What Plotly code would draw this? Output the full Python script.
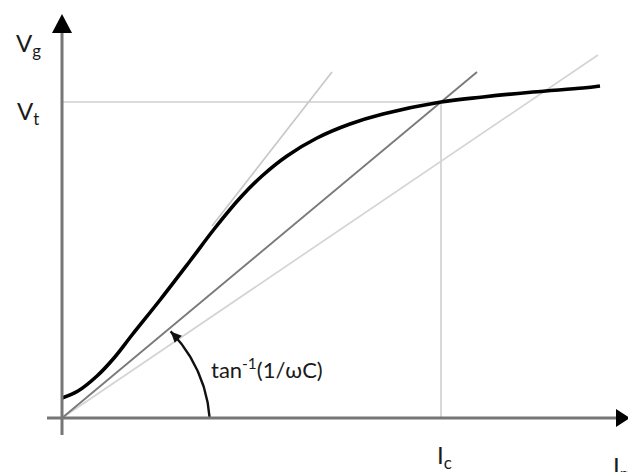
import numpy as np
import plotly.graph_objects as go

# Magnetising characteristic V_g vs I_m (arbitrary units, origin at axis crossing)
curve_im = [0, 16, 35, 52, 70, 98, 128, 153, 178, 200, 225, 255, 288, 321, 379, 421, 471, 521, 538]
curve_vg = [20, 27, 42, 60, 83, 118, 157, 190, 220, 242, 262, 280, 294, 304, 316, 321, 326, 330, 332]

# Operating point where the capacitor line meets the curve
i_c = 379
v_t = 316

# Straight lines: capacitor line (slope 1/wC) and two light guide lines
cap_line_im = [0, 415]
cap_line_vg = [0, 346]
steep_line_im = [150, 270]
steep_line_vg = [192, 346]
shallow_line_im = [0, 536]
shallow_line_vg = [0, 363]

FONT = "Lato"

fig = go.Figure()

# guide lines
fig.add_trace(go.Scatter(x=[0, i_c], y=[v_t, v_t], mode="lines",
                         line=dict(color="#cfcfcf", width=1.6), hoverinfo="skip"))
fig.add_trace(go.Scatter(x=[i_c, i_c], y=[0, v_t], mode="lines",
                         line=dict(color="#cfcfcf", width=1.6), hoverinfo="skip"))
fig.add_trace(go.Scatter(x=shallow_line_im, y=shallow_line_vg, mode="lines",
                         line=dict(color="#d4d4d4", width=1.7), hoverinfo="skip"))
fig.add_trace(go.Scatter(x=steep_line_im, y=steep_line_vg, mode="lines",
                         line=dict(color="#c8c8c8", width=1.7), hoverinfo="skip"))
fig.add_trace(go.Scatter(x=cap_line_im, y=cap_line_vg, mode="lines",
                         line=dict(color="#7a7a7a", width=1.9), hoverinfo="skip"))

# magnetising curve
fig.add_trace(go.Scatter(x=curve_im, y=curve_vg, mode="lines", line_shape="spline",
                         line=dict(color="#000000", width=3.6), hoverinfo="skip"))

# angle arc with arrowhead
cx, cy, r = 10, -10, 138
theta = np.radians(np.linspace(4.2, 44.4, 60))
ax_ = cx + r * np.cos(theta)
ay_ = cy + r * np.sin(theta)
fig.add_trace(go.Scatter(x=ax_, y=ay_, mode="lines",
                         line=dict(color="#111111", width=2.4), hoverinfo="skip"))
end = np.array([ax_[-1], ay_[-1]])
tdir = np.array([-np.sin(theta[-1]), np.cos(theta[-1])])
ndir = np.array([-tdir[1], tdir[0]])
base = end - 11 * tdir
tri = [end, base + 5 * ndir, base - 5 * ndir]
fig.add_shape(type="path",
              path="M {} {} L {} {} L {} {} Z".format(*tri[0], *tri[1], *tri[2]),
              fillcolor="#111111", line=dict(width=0))

# axes
axis_color = "#767676"
fig.add_shape(type="line", x0=-15, y0=0, x1=556, y1=0, line=dict(color=axis_color, width=3))
fig.add_shape(type="line", x0=0, y0=-17, x1=0, y1=388, line=dict(color=axis_color, width=3))
fig.add_shape(type="path", path="M 568 0 L 554 -9 L 554 9 Z", fillcolor="#000000", line=dict(width=0))
fig.add_shape(type="path", path="M 0 404 L -10 385 L 10 385 Z", fillcolor="#000000", line=dict(width=0))

# labels
def label(x, y, text, size=24, xanchor="center"):
    fig.add_annotation(x=x, y=y, text=text, showarrow=False, xanchor=xanchor,
                       yanchor="middle", font=dict(family=FONT, size=size, color="#1a1a1a"))

label(-34, 374, "V<sub>g</sub>")
label(-34, 306, "V<sub>t</sub>")
label(382, -38, "I<sub>c</sub>")
label(549, -49, "I<sub>m</sub>", xanchor="left")
label(147, 50, "tan<sup>-1</sup>(1/ωC)", size=22, xanchor="left")

fig.update_layout(
    width=628, height=472,
    margin=dict(l=0, r=0, t=0, b=0),
    paper_bgcolor="white", plot_bgcolor="white",
    showlegend=False,
    xaxis=dict(range=[-62, 566], visible=False, fixedrange=True),
    yaxis=dict(range=[-54, 418], visible=False, fixedrange=True),
)

fig.write_html("out.html")
